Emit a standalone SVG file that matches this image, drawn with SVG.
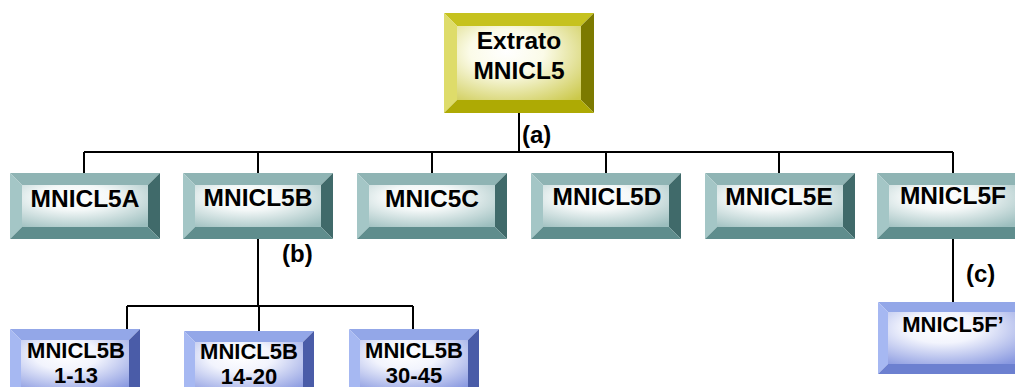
<svg xmlns="http://www.w3.org/2000/svg" width="1015" height="387" viewBox="0 0 1015 387">
  <style>
    .lbl { font-family: "Liberation Sans", Arial, sans-serif; font-weight: bold; fill: #000; text-anchor: middle; }
    .big { font-size: 24.5px; }
    .small { font-size: 22px; }
    .tag { font-family: "Liberation Sans", Arial, sans-serif; font-weight: bold; font-size: 24px; fill: #000; }
    .wire { stroke: #000; stroke-width: 2; fill: none; }
    .yT { fill: #c6c21e; } .yL { fill: #dedc6a; } .yR { fill: #7c7a00; } .yB { fill: #aeaa04; }
    .tT { fill: #8fb4b4; } .tL { fill: #a4c6c6; } .tR { fill: #406a6a; } .tB { fill: #5f8d8d; }
    .bT { fill: #93a7e8; } .bL { fill: #a6b8f2; } .bR { fill: #4a5ca8; } .bB { fill: #6c80d0; }
  </style>
  <defs>
    <radialGradient id="faceYellow" cx="0.4" cy="0.35" r="0.85">
      <stop offset="0" stop-color="#ffffff"/>
      <stop offset="0.35" stop-color="#fbfbe8"/>
      <stop offset="1" stop-color="#cbc84a"/>
    </radialGradient>
    <radialGradient id="faceTeal" cx="0.42" cy="0.3" r="0.85">
      <stop offset="0" stop-color="#ffffff"/>
      <stop offset="0.35" stop-color="#f4f8f8"/>
      <stop offset="1" stop-color="#9cbebe"/>
    </radialGradient>
    <radialGradient id="faceBlue" cx="0.42" cy="0.3" r="0.85">
      <stop offset="0" stop-color="#ffffff"/>
      <stop offset="0.35" stop-color="#f2f4fd"/>
      <stop offset="1" stop-color="#8898e0"/>
    </radialGradient>

    <!-- bevelled yellow block, 150 x 100 -->
    <symbol id="boxYellow" overflow="visible">
      <polygon class="yT" points="0,0 150,0 137,13 13,13"/>
      <polygon class="yL" points="0,0 13,13 13,87 0,100"/>
      <polygon class="yR" points="150,0 150,100 137,87 137,13"/>
      <polygon class="yB" points="0,100 13,87 137,87 150,100"/>
      <rect x="13" y="13" width="124" height="74" fill="url(#faceYellow)"/>
    </symbol>

    <!-- bevelled teal block, 150 x 66 -->
    <symbol id="boxTeal" overflow="visible">
      <polygon class="tT" points="0,0 150,0 138,12 12,12"/>
      <polygon class="tL" points="0,0 12,12 12,54 0,66"/>
      <polygon class="tR" points="150,0 150,66 138,54 138,12"/>
      <polygon class="tB" points="0,66 12,54 138,54 150,66"/>
      <rect x="12" y="12" width="126" height="42" fill="url(#faceTeal)"/>
    </symbol>

    <!-- bevelled blue block, 130 x 72 -->
    <symbol id="boxBlue" overflow="visible">
      <polygon class="bT" points="0,0 130,0 119,11 11,11"/>
      <polygon class="bL" points="0,0 11,11 11,61 0,72"/>
      <polygon class="bR" points="130,0 130,72 119,61 119,11"/>
      <polygon class="bB" points="0,72 11,61 119,61 130,72"/>
      <rect x="11" y="11" width="108" height="50" fill="url(#faceBlue)"/>
    </symbol>

    <!-- bevelled blue block, 150 x 72 -->
    <symbol id="boxBlueWide" overflow="visible">
      <polygon class="bT" points="0,0 150,0 140,10 10,10"/>
      <polygon class="bL" points="0,0 10,10 10,62 0,72"/>
      <polygon class="bR" points="150,0 150,72 140,62 140,10"/>
      <polygon class="bB" points="0,72 10,62 140,62 150,72"/>
      <rect x="10" y="10" width="130" height="52" fill="url(#faceBlue)"/>
    </symbol>
  </defs>

  <rect width="1015" height="387" fill="#ffffff"/>

  <!-- connectors -->
  <g id="connectors" class="wire">
    <path d="M519 113 V152"/>
    <path d="M84 152 H953"/>
    <path d="M84 152 V173 M258 152 V173 M432 152 V173 M606 152 V173 M779 152 V173 M953 152 V173"/>
    <path d="M258 239 V306"/>
    <path d="M127 306 H413"/>
    <path d="M127 306 V329 M259 306 V331 M413 306 V329"/>
    <path d="M953 239 V302"/>
  </g>

  <!-- edge labels -->
  <g id="edge-labels">
    <text class="tag" x="522" y="143">(a)</text>
    <text class="tag" x="282" y="262">(b)</text>
    <text class="tag" x="966" y="282">(c)</text>
  </g>

  <!-- root -->
  <g id="node-extrato">
    <use href="#boxYellow" x="444" y="13"/>
    <text class="lbl big" x="519" y="49">Extrato</text>
    <text class="lbl big" x="519" y="79">MNICL5</text>
  </g>

  <!-- first level -->
  <g id="node-mnicl5a">
    <use href="#boxTeal" x="10" y="173"/>
    <text class="lbl big" x="85" y="207">MNICL5A</text>
  </g>
  <g id="node-mnicl5b">
    <use href="#boxTeal" x="183" y="173"/>
    <text class="lbl big" x="258" y="206">MNICL5B</text>
  </g>
  <g id="node-mnic5c">
    <use href="#boxTeal" x="357" y="173"/>
    <text class="lbl big" x="432" y="207">MNIC5C</text>
  </g>
  <g id="node-mnicl5d">
    <use href="#boxTeal" x="531" y="173"/>
    <text class="lbl big" x="607" y="205">MNICL5D</text>
  </g>
  <g id="node-mnicl5e">
    <use href="#boxTeal" x="705" y="173"/>
    <text class="lbl big" x="779" y="205">MNICL5E</text>
  </g>
  <g id="node-mnicl5f">
    <use href="#boxTeal" x="877" y="173"/>
    <text class="lbl big" x="953" y="204">MNICL5F</text>
  </g>

  <!-- second level -->
  <g id="node-mnicl5b-1-13">
    <use href="#boxBlue" x="10" y="329"/>
    <text class="lbl small" x="76" y="358">MNICL5B</text>
    <text class="lbl small" x="76" y="383">1-13</text>
  </g>
  <g id="node-mnicl5b-14-20">
    <use href="#boxBlue" x="184" y="331"/>
    <text class="lbl small" x="249" y="359">MNICL5B</text>
    <text class="lbl small" x="249" y="384">14-20</text>
  </g>
  <g id="node-mnicl5b-30-45">
    <use href="#boxBlue" x="349" y="329"/>
    <text class="lbl small" x="414" y="358">MNICL5B</text>
    <text class="lbl small" x="414" y="383">30-45</text>
  </g>
  <g id="node-mnicl5f-prime">
    <use href="#boxBlueWide" x="878" y="302"/>
    <text class="lbl small" x="953" y="332">MNICL5F’</text>
  </g>
</svg>
